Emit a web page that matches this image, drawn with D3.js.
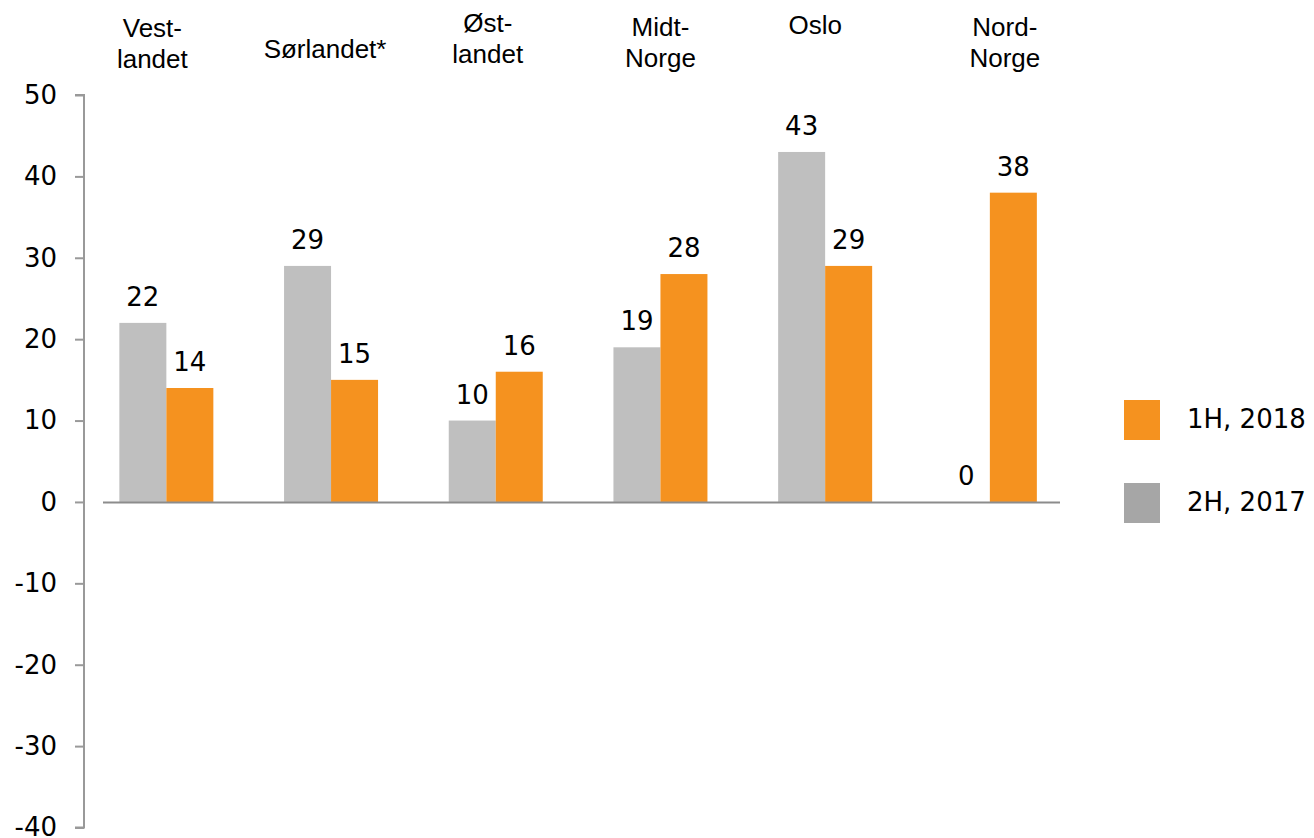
<!DOCTYPE html>
<html>
<head>
<meta charset="utf-8">
<script src="https://cdn.jsdelivr.net/npm/d3@7/dist/d3.min.js"></script>
<style>
  html, body { margin: 0; padding: 0; background: #fff; }
  svg { display: block; }
</style>
</head>
<body>
<svg id="chart" width="1314" height="838"></svg>
<script>
// ---- data ----
const categories = ["Vestlandet", "Sørlandet*", "Østlandet", "Midt-Norge", "Oslo", "Nord-Norge"];
const categoryLines = [["Vest-", "landet"], ["Sørlandet*"], ["Øst-", "landet"], ["Midt-", "Norge"], ["Oslo"], ["Nord-", "Norge"]];
const seriesNames = ["2H, 2017", "1H, 2018"];
const values2H2017 = [22, 29, 10, 19, 43, 0];
const values1H2018 = [14, 15, 16, 28, 29, 38];
const yTicks = [50, 40, 30, 20, 10, 0, -10, -20, -30, -40];
const legendOrder = ["1H, 2018", "2H, 2017"];

// ---- layout / style ----
const labelNudgeX = [-14, -6, -8, 0, -10, 15];
const labelBaseY = [37, 58, 32, 36, 34, 36];
const barColor = {"2H, 2017": "#bfbfbf", "1H, 2018": "#f5921f"};
const legendColor = {"2H, 2017": "#a6a6a6", "1H, 2018": "#f5921f"};

const svg = d3.select("#chart");

const y = d3.scaleLinear().domain([-40, 50]).range([827.5, 95]);
const x0 = d3.scaleBand().domain(categories).range([84, 84 + 6 * 164.7]).padding(0);
const x1 = d3.scaleBand().domain(seriesNames).range([-47, 47]).padding(0);
const cx = c => x0(c) + x0.bandwidth() / 2;

// y axis
const yAxis = d3.axisLeft(y).tickValues(yTicks).tickSize(9).tickPadding(18).tickFormat(d => String(d));
const gy = svg.append("g").attr("transform", "translate(84,0)").call(yAxis);
gy.select(".domain").attr("stroke", "#999").attr("stroke-width", 2).attr("d", `M-9,${y(50)}H0V${y(-40)}H-9`);
gy.selectAll(".tick line").attr("stroke", "#999").attr("stroke-width", 2);
gy.selectAll(".tick text")
  .attr("font-family", "'DejaVu Sans', Verdana, sans-serif")
  .attr("font-size", 26)
  .attr("fill", "#000");

// bars
const data = categories.map((c, i) => ({cat: c, vals: [
  {s: "2H, 2017", v: values2H2017[i]},
  {s: "1H, 2018", v: values1H2018[i]}
]}));

const groups = svg.append("g").selectAll("g").data(data).join("g")
  .attr("transform", d => `translate(${cx(d.cat)},0)`);

groups.selectAll("rect").data(d => d.vals).join("rect")
  .attr("x", d => x1(d.s))
  .attr("width", x1.bandwidth())
  .attr("y", d => y(Math.max(0, d.v)))
  .attr("height", d => Math.abs(y(d.v) - y(0)))
  .attr("fill", d => barColor[d.s]);

groups.selectAll("text").data(d => d.vals).join("text")
  .attr("x", d => x1(d.s) + x1.bandwidth() / 2)
  .attr("y", d => y(Math.max(0, d.v)) - 17)
  .attr("text-anchor", "middle")
  .attr("font-family", "'DejaVu Sans', Verdana, sans-serif")
  .attr("font-size", 26)
  .attr("fill", "#000")
  .text(d => d.v);

// zero line
svg.append("line")
  .attr("x1", 103).attr("x2", 1060)
  .attr("y1", y(0) + 0.5).attr("y2", y(0) + 0.5)
  .attr("stroke", "#8c8c8c").attr("stroke-width", 2);

// category labels at top
categories.forEach((c, i) => {
  const t = svg.append("text")
    .attr("x", cx(c) + labelNudgeX[i])
    .attr("y", labelBaseY[i])
    .attr("text-anchor", "middle")
    .attr("font-family", "'Liberation Sans', Arial, sans-serif")
    .attr("font-size", 26)
    .attr("fill", "#000");
  categoryLines[i].forEach((line, j) => {
    t.append("tspan").attr("x", cx(c) + labelNudgeX[i]).attr("dy", j === 0 ? 0 : 31).text(line);
  });
});

// legend
const leg = svg.append("g").selectAll("g").data(legendOrder).join("g")
  .attr("transform", (d, i) => `translate(1124,${400 + i * 83})`);
leg.append("rect").attr("width", 36).attr("height", 40).attr("fill", d => legendColor[d]);
leg.append("text")
  .attr("x", 63).attr("y", 28)
  .attr("font-family", "'DejaVu Sans', Verdana, sans-serif")
  .attr("font-size", 26)
  .attr("fill", "#000")
  .text(d => d);
</script>
</body>
</html>
